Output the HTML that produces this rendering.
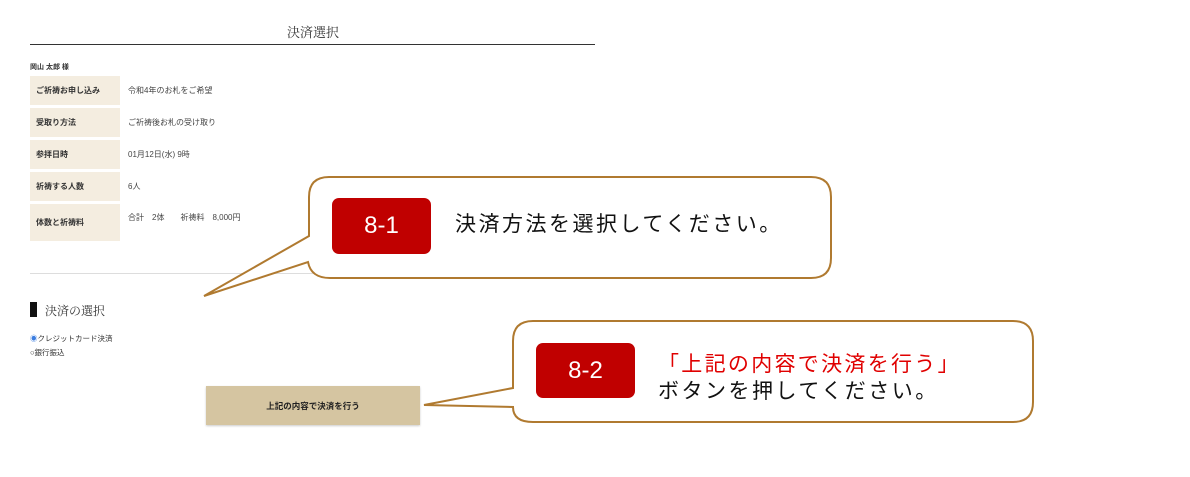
<!DOCTYPE html>
<html><head><meta charset="utf-8"><style>
body{margin:0;width:1190px;height:477px;background:#fff;position:relative;overflow:hidden;font-family:"Liberation Sans","Noto Sans CJK JP",sans-serif;color:#333}
.a{position:absolute;white-space:nowrap}
.lab{position:absolute;left:30px;width:90px;background:#f4ede0;font-size:8px;font-weight:bold;color:#333;box-sizing:border-box;padding-left:6px;display:flex;align-items:center}
.val{position:absolute;left:128px;font-size:8px;color:#444}
.serif{font-family:"Liberation Serif","Noto Serif CJK SC",serif}
.big{font-size:21px;letter-spacing:2.5px}
</style></head><body>
<div class="a serif" style="left:287px;top:22px;font-size:13px;color:#333">決済選択</div>
<div class="a" style="left:30px;top:44px;width:565px;height:1px;background:#333"></div>
<div class="a" style="left:30px;top:62px;font-size:7px;font-weight:bold">岡山 太郎 様</div>
<div class="lab" style="top:76px;height:29px">ご祈祷お申し込み</div><div class="val" style="top:85px">令和4年のお札をご希望</div>
<div class="lab" style="top:108px;height:29px">受取り方法</div><div class="val" style="top:117px">ご祈祷後お札の受け取り</div>
<div class="lab" style="top:140px;height:29px">参拝日時</div><div class="val" style="top:149px">01月12日(水) 9時</div>
<div class="lab" style="top:172px;height:29px">祈祷する人数</div><div class="val" style="top:181px">6人</div>
<div class="lab" style="top:204px;height:37px">体数と祈祷料</div><div class="val" style="top:212px">合計　2体　　祈祷料　8,000円</div>
<div class="a" style="left:30px;top:273px;width:290px;height:1px;background:#ddd"></div>
<div class="a" style="left:30px;top:302px;width:7px;height:15px;background:#111"></div>
<div class="a serif" style="left:45px;top:302px;font-size:12px;color:#333">決済の選択</div>
<div class="a" style="left:30px;top:333px;font-size:7.5px"><span style="color:#3b7de0">◉</span>クレジットカード決済</div>
<div class="a" style="left:30px;top:347px;font-size:7.5px">○銀行振込</div>
<div class="a" style="left:206px;top:386px;width:214px;height:39px;background:#d5c5a1;box-shadow:0 1px 2px #ccc;font-size:8.5px;font-weight:bold;color:#222;display:flex;align-items:center;justify-content:center">上記の内容で決済を行う</div>
<svg class="a" style="left:0;top:0" width="1190" height="477">
<path d="M329,177 H811 Q831,177 831,197 V258 Q831,278 811,278 H330 Q311,278 308,262 L204,296 L309,236 V197 Q309,177 329,177 Z" fill="#fff" stroke="#b07a30" stroke-width="2"/>
<path d="M533,321 H1013 Q1033,321 1033,341 V402 Q1033,422 1013,422 H533 Q513,422 513,407 L424,405 L513,388 V341 Q513,321 533,321 Z" fill="#fff" stroke="#b07a30" stroke-width="2"/>
<rect x="332" y="198" width="99" height="56" rx="7" fill="#c00000"/>
<rect x="536" y="343" width="99" height="55" rx="7" fill="#c00000"/>
</svg>
<div class="a" style="left:332px;top:212px;width:99px;text-align:center;color:#fff;font-size:24px">8-1</div>
<div class="a" style="left:536px;top:357px;width:99px;text-align:center;color:#fff;font-size:24px">8-2</div>
<div class="a big" style="left:455px;top:208px;color:#111">決済方法を選択してください。</div>
<div class="a big" style="left:658px;top:348px;color:#e00000;letter-spacing:2.3px">「上記の内容で決済を行う」</div>
<div class="a big" style="left:658px;top:375px;color:#111">ボタンを押してください。</div>
</body></html>
